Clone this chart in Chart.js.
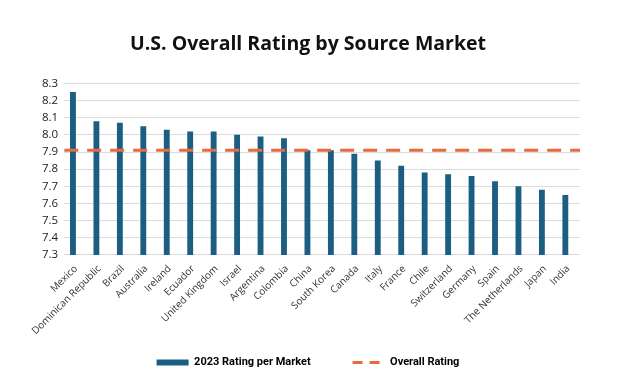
<!DOCTYPE html>
<html>
<head>
<meta charset="utf-8">
<script src="https://cdn.jsdelivr.net/npm/chart.js@4"></script>
<style>
  html, body { margin: 0; padding: 0; background: #fff; }
  #wrap { width: 634px; height: 390px; }
</style>
</head>
<body>
<div id="wrap"><canvas id="grafico"></canvas></div>
<script>
const mercados = ["Mexico", "Dominican Republic", "Brazil", "Australia", "Ireland", "Ecuador",
  "United Kingdom", "Israel", "Argentina", "Colombia", "China", "South Korea", "Canada", "Italy",
  "France", "Chile", "Switzerland", "Germany", "Spain", "The Netherlands", "Japan", "India"];
const notas2023 = [8.25, 8.08, 8.07, 8.05, 8.03, 8.02, 8.02, 8.00, 7.99, 7.98, 7.91, 7.91,
  7.89, 7.85, 7.82, 7.78, 7.77, 7.76, 7.73, 7.70, 7.68, 7.65];
const notaGeral = 7.91;
const eixoY = { min: 7.3, max: 8.3, passo: 0.1 };

const AZUL = "#1b5e82";
const LARANJA = "#e86a3e";

new Chart(document.getElementById("grafico"), {
  data: {
    labels: mercados,
    datasets: [
      {
        type: "bar",
        label: "2023 Rating per Market",
        data: notas2023,
        backgroundColor: AZUL,
        barPercentage: 1,
        categoryPercentage: 0.5,
        order: 2
      },
      {
        type: "line",
        label: "Overall Rating",
        // de ponta a ponta do gráfico, num eixo x auxiliar 0..1
        data: [{ x: 0, y: notaGeral }, { x: 1, y: notaGeral }],
        xAxisID: "x2",
        borderColor: LARANJA,
        borderWidth: 3,
        borderDash: [14, 9],
        pointRadius: 0,
        fill: false,
        order: 1
      }
    ]
  },
  options: {
    responsive: true,
    maintainAspectRatio: false,
    animation: false,
    layout: { padding: { left: 36, right: 54, bottom: 12 } },
    scales: {
      x: {
        grid: { display: false },
        border: { display: false },
        ticks: {
          minRotation: 45, maxRotation: 45, autoSkip: false,
          color: "#333", padding: 0,
          font: { family: "Open Sans", size: 10 }
        }
      },
      x2: {
        type: "linear", min: 0, max: 1, display: false, offset: false
      },
      y: {
        min: eixoY.min, max: eixoY.max,
        border: { display: false },
        grid: { color: "#dcdcdc", drawTicks: false },
        ticks: {
          stepSize: eixoY.passo, padding: 6, color: "#222", autoSkip: false,
          font: { family: "Open Sans", size: 11.5 },
          callback: v => Number(v).toFixed(1)
        }
      }
    },
    plugins: {
      title: {
        display: true,
        text: "U.S. Overall Rating by Source Market",
        color: "#111",
        font: { family: "Open Sans", size: 19.5, weight: "bold" },
        padding: { top: 33, bottom: 27 }
      },
      tooltip: { enabled: false },
      legend: {
        position: "bottom",
        labels: {
          usePointStyle: true,
          pointStyleWidth: 32,
          boxHeight: 6,
          padding: 20,
          color: "#111",
          font: { family: "Roboto", size: 11, weight: "bold" },
          generateLabels: () => [
            // espaços no fim só para afastar os dois itens como no original
            { text: "2023 Rating per Market        ", fillStyle: AZUL, strokeStyle: AZUL, lineWidth: 0, pointStyle: "rect", datasetIndex: 0 },
            { text: "Overall Rating", fillStyle: "rgba(0,0,0,0)", strokeStyle: LARANJA, lineWidth: 3, lineDash: [10, 7], pointStyle: "line", datasetIndex: 1 }
          ]
        }
      }
    }
  }
});
</script>
</body>
</html>
